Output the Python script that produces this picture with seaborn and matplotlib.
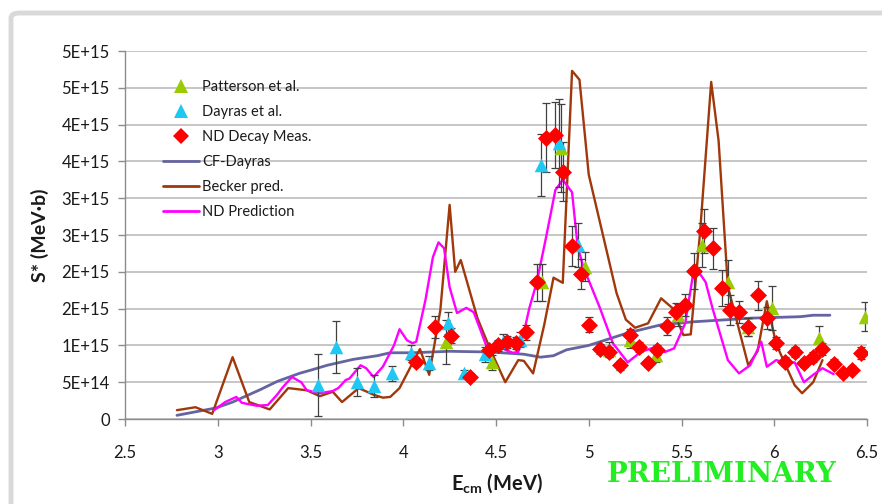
import numpy as np
import pandas as pd
import matplotlib
matplotlib.use("Agg")
import matplotlib.pyplot as plt
import seaborn as sns
from matplotlib.lines import Line2D
from matplotlib.patches import FancyBboxPatch

# ---------------- data (y in units of 1e15 MeV*b) ----------------
SCALE = 1e15

patterson_x = [4.23, 4.48, 4.75, 4.85, 4.98, 5.11, 5.22, 5.36, 5.48, 5.61, 5.75, 5.86, 5.99, 6.24, 6.49]
patterson_y = [1.05, 0.77, 1.86, 3.68, 2.07, 0.94, 1.07, 0.87, 1.41, 2.36, 1.86, 1.25, 1.51, 1.10, 1.39]
patterson_err = [0.30, 0.10, 0.25, 0.60, 0.20, 0.10, 0.10, 0.10, 0.15, 0.30, 0.30, 0.12, 0.30, 0.17, 0.20]

dayras_x = [3.54, 3.64, 3.75, 3.84, 3.94, 4.04, 4.14, 4.24, 4.33, 4.44, 4.54, 4.63, 4.74, 4.84, 4.94]
dayras_y = [0.46, 0.98, 0.50, 0.45, 0.62, 0.90, 0.76, 1.30, 0.62, 0.88, 1.05, 1.08, 3.45, 3.75, 2.36]
dayras_err = [0.42, 0.35, 0.19, 0.15, 0.10, 0.10, 0.10, 0.15, 0.05, 0.10, 0.10, 0.10, 0.42, 0.60, 0.30]

nd_x = [4.07, 4.17, 4.26, 4.36, 4.46, 4.51, 4.56, 4.61, 4.66, 4.72, 4.77, 4.82, 4.86, 4.91, 4.96,
        5.00, 5.06, 5.11, 5.17, 5.22, 5.27, 5.32, 5.37, 5.42, 5.47, 5.52, 5.57, 5.62, 5.67, 5.72,
        5.76, 5.81, 5.86, 5.91, 5.96, 6.01, 6.06, 6.11, 6.16, 6.21, 6.26, 6.32, 6.37, 6.42, 6.47]
nd_y = [0.77, 1.25, 1.13, 0.57, 0.94, 1.00, 1.05, 1.03, 1.18, 1.86, 3.82, 3.86, 3.36, 2.35, 1.97,
        1.28, 0.95, 0.91, 0.73, 1.14, 0.98, 0.76, 0.94, 1.26, 1.45, 1.55, 2.01, 2.55, 2.32, 1.78,
        1.48, 1.45, 1.25, 1.68, 1.37, 1.03, 0.78, 0.91, 0.76, 0.84, 0.95, 0.75, 0.62, 0.67, 0.90]
nd_err = [0.05, 0.15, 0.10, 0.05, 0.07, 0.07, 0.08, 0.08, 0.10, 0.25, 0.47, 0.45, 0.40, 0.27, 0.20,
          0.10, 0.07, 0.07, 0.06, 0.08, 0.07, 0.06, 0.07, 0.12, 0.12, 0.15, 0.25, 0.30, 0.28, 0.25,
          0.20, 0.15, 0.12, 0.20, 0.15, 0.08, 0.06, 0.07, 0.06, 0.07, 0.08, 0.06, 0.05, 0.05, 0.08]

cf_x = [2.78, 2.99, 3.08, 3.23, 3.32, 3.44, 3.51, 3.59, 3.73, 3.86, 3.93, 4.05, 4.25, 4.47,
        4.65, 4.74, 4.81, 4.88, 5.00, 5.21, 5.39, 5.56, 5.75, 5.87, 6.14, 6.21, 6.30]
cf_y = [0.05, 0.15, 0.23, 0.40, 0.51, 0.62, 0.67, 0.73, 0.81, 0.86, 0.90, 0.90, 0.92, 0.91,
        0.88, 0.84, 0.86, 0.94, 1.00, 1.17, 1.28, 1.32, 1.35, 1.37, 1.39, 1.41, 1.41]

becker_x = [2.78, 2.88, 2.97, 3.08, 3.17, 3.28, 3.38, 3.48, 3.55, 3.62, 3.67, 3.76, 3.84, 3.89,
            3.93, 3.98, 4.05, 4.09, 4.14, 4.20, 4.25, 4.28, 4.31, 4.40, 4.47, 4.55, 4.62, 4.65,
            4.70, 4.76, 4.81, 4.86, 4.91, 4.95, 5.00, 5.15, 5.20, 5.25, 5.32, 5.39, 5.45, 5.51,
            5.55, 5.60, 5.66, 5.70, 5.75, 5.86, 5.91, 5.96, 6.01, 6.11, 6.15, 6.21, 6.26]
becker_y = [0.12, 0.16, 0.07, 0.84, 0.23, 0.13, 0.42, 0.39, 0.31, 0.37, 0.23, 0.42, 0.33, 0.29,
            0.30, 0.42, 0.76, 0.95, 0.60, 1.48, 2.91, 2.00, 2.16, 1.37, 0.94, 0.50, 0.80, 0.79,
            0.62, 1.28, 1.92, 1.85, 4.73, 4.61, 3.32, 1.71, 1.35, 1.24, 1.30, 1.64, 1.51, 1.14,
            1.15, 2.53, 4.58, 3.78, 1.80, 0.73, 0.92, 1.60, 1.02, 0.46, 0.35, 0.50, 0.80]

ndpred_x = [2.98, 3.04, 3.10, 3.13, 3.21, 3.27, 3.32, 3.35, 3.40, 3.45, 3.48, 3.55, 3.62, 3.65,
            3.69, 3.71, 3.77, 3.80, 3.84, 3.89, 3.95, 3.98, 4.02, 4.05, 4.07, 4.12, 4.16, 4.19,
            4.22, 4.25, 4.29, 4.34, 4.38, 4.41, 4.45, 4.49, 4.51, 4.55, 4.59, 4.62, 4.65, 4.68,
            4.72, 4.77, 4.82, 4.86, 4.91, 4.94, 4.97, 5.06, 5.13, 5.21, 5.28, 5.36, 5.41, 5.46,
            5.52, 5.56, 5.60, 5.63, 5.67, 5.75, 5.81, 5.87, 5.93, 5.96, 6.01, 6.07, 6.11, 6.16,
            6.21, 6.26, 6.32]
ndpred_y = [0.12, 0.23, 0.30, 0.22, 0.18, 0.19, 0.33, 0.43, 0.57, 0.50, 0.39, 0.35, 0.38, 0.42,
            0.53, 0.55, 0.73, 0.69, 0.57, 0.71, 1.00, 1.22, 1.07, 1.03, 1.05, 1.62, 2.20, 2.40,
            2.32, 1.79, 1.44, 1.51, 1.45, 1.25, 0.98, 0.90, 1.05, 0.94, 0.90, 0.91, 1.17, 1.51,
            1.86, 2.47, 3.11, 3.25, 3.08, 2.35, 2.07, 1.51, 1.03, 0.77, 0.91, 0.98, 0.91, 0.96,
            1.30, 1.93, 1.97, 1.86, 1.48, 0.80, 0.62, 0.73, 1.05, 0.71, 0.80, 0.76, 0.77, 0.50,
            0.60, 0.69, 0.61]

x_ticks = [2.5, 3, 3.5, 4, 4.5, 5, 5.5, 6, 6.5]
x_tick_labels = ["2.5", "3", "3.5", "4", "4.5", "5", "5.5", "6", "6.5"]
y_ticks = [0, 0.5, 1.0, 1.5, 2.0, 2.5, 3.0, 3.5, 4.0, 4.5, 5.0]
y_tick_labels = ["0", "5E+14", "1E+15", "2E+15", "2E+15", "3E+15", "3E+15",
                 "4E+15", "4E+15", "5E+15", "5E+15"]

# ---------------- styling ----------------
sns.set_theme(style="white")
plt.rcParams['font.family'] = ['Lato', 'DejaVu Sans']

C_PAT = "#99cc00"
C_DAY = "#1ec8f5"
C_ND = "#ff0000"
C_CF = "#6464a0"
C_BEC = "#a0380c"
C_NDP = "#ff00ff"
ERR_C = "#404040"

W, H = 882, 504
fig = plt.figure(figsize=(W / 100, H / 100), dpi=100)
fig.patch.set_facecolor("white")

# outer chart border
border = FancyBboxPatch((11 / W, -0.05), 1.2, 1.05 - 13 / H,
                        boxstyle="round,pad=0,rounding_size=0.01",
                        transform=fig.transFigure, facecolor="none",
                        edgecolor="#d9d9d9", linewidth=3.5, zorder=0)
fig.patches.append(border)

ax = fig.add_axes([125 / W, 1 - 419 / H, (867 - 125) / W, (419 - 51) / H])
ax.set_facecolor("white")

def df(x, y):
    return pd.DataFrame({"x": x, "y": np.array(y) * SCALE})

# lines
sns.lineplot(data=df(cf_x, cf_y), x="x", y="y", ax=ax, sort=False, color=C_CF,
             linewidth=2.0, zorder=2, estimator=None)
sns.lineplot(data=df(becker_x, becker_y), x="x", y="y", ax=ax, sort=False, color=C_BEC,
             linewidth=1.7, zorder=2, estimator=None)
sns.lineplot(data=df(ndpred_x, ndpred_y), x="x", y="y", ax=ax, sort=False, color=C_NDP,
             linewidth=1.7, zorder=2, estimator=None)

# error bars
for xs, ys, es in [(patterson_x, patterson_y, patterson_err),
                   (dayras_x, dayras_y, dayras_err),
                   (nd_x, nd_y, nd_err)]:
    ax.errorbar(xs, np.array(ys) * SCALE, yerr=np.array(es) * SCALE, fmt="none",
                ecolor=ERR_C, elinewidth=0.9, capsize=3, capthick=0.9, zorder=3)

# markers
sns.scatterplot(data=df(patterson_x, patterson_y), x="x", y="y", ax=ax, marker="^",
                s=95, color=C_PAT, linewidth=0, zorder=4)
sns.scatterplot(data=df(dayras_x, dayras_y), x="x", y="y", ax=ax, marker="^",
                s=95, color=C_DAY, linewidth=0, zorder=4)
sns.scatterplot(data=df(nd_x, nd_y), x="x", y="y", ax=ax, marker="D",
                s=75, color=C_ND, linewidth=0, zorder=5)

# axes
ax.set_xlim(2.5, 6.5)
ax.set_ylim(0, 5.0 * SCALE)
ax.set_xticks(x_ticks)
ax.set_xticklabels(x_tick_labels)
ax.set_yticks([v * SCALE for v in y_ticks])
ax.set_yticklabels(y_tick_labels)
ax.yaxis.grid(True, color="#bcbcbc", linewidth=1.2)
ax.xaxis.grid(False)
ax.set_axisbelow(True)
for s in ["top", "right"]:
    ax.spines[s].set_visible(False)
for s in ["left", "bottom"]:
    ax.spines[s].set_color("#8c8c8c")
    ax.spines[s].set_linewidth(1.0)
ax.tick_params(axis="x", direction="out", length=5, width=1, color="#8c8c8c",
               pad=14, labelsize=12, labelcolor="#1a1a1a", bottom=True)
ax.tick_params(axis="y", direction="out", length=5, width=1, color="#8c8c8c",
               pad=6, labelsize=12, labelcolor="#1a1a1a", left=True)
ax.set_xlabel("")
ax.set_ylabel("")

fig.text(40 / W, 1 - 235 / H, "S* (MeV·b)", rotation=90, ha="center", va="center",
         fontsize=14, fontweight="bold", color="#1a1a1a")
fig.text(497 / W, 1 - 483 / H, r"E$_{\mathregular{cm}}$ (MeV)", ha="center", va="center",
         fontsize=14.5, fontweight="bold", color="#1a1a1a")
fig.text(722 / W, 1 - 474 / H, "PRELIMINARY", ha="center", va="center",
         fontsize=20, fontweight="bold", color="#22ee22",
         family=["DejaVu Serif", "Liberation Serif"])

# legend
handles = [
    Line2D([], [], linestyle="none", marker="^", markersize=9.5, color=C_PAT, markeredgewidth=0),
    Line2D([], [], linestyle="none", marker="^", markersize=9.5, color=C_DAY, markeredgewidth=0),
    Line2D([], [], linestyle="none", marker="D", markersize=8, color=C_ND, markeredgewidth=0),
    Line2D([], [], color=C_CF, linewidth=2.0),
    Line2D([], [], color=C_BEC, linewidth=2.0),
    Line2D([], [], color=C_NDP, linewidth=2.0),
]
labels = ["Patterson et al.", "Dayras et al.", "ND Decay Meas.", "CF-Dayras",
          "Becker pred.", "ND Prediction"]
leg = fig.legend(handles, labels, loc="upper left",
                 bbox_to_anchor=(163 / W, 1 - 80 / H), frameon=False,
                 fontsize=10.5, handlelength=2.5, handletextpad=0.2,
                 labelspacing=0.76, borderpad=0, borderaxespad=0)
for t in leg.get_texts():
    t.set_color("#1a1a1a")

fig.savefig("out.png", dpi=100, facecolor="white")
